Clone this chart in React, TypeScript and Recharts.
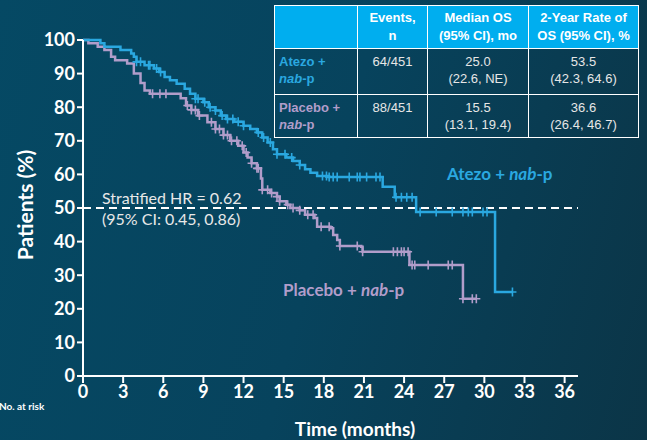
import React from 'react';
import { ComposedChart, Line, Scatter, XAxis, YAxis, ReferenceLine } from 'recharts';

// axis ticks
const monthTicks = [0, 3, 6, 9, 12, 15, 18, 21, 24, 27, 30, 33, 36];
const pctTicks = [0, 10, 20, 30, 40, 50, 60, 70, 80, 90, 100];

// Atezo + nab-p: KM step points (months, % alive)
const atezoT = [0, 1.3, 1.6, 2.8, 3.6, 3.8, 4.0, 4.6, 5.3, 5.7, 6.1, 6.5, 7.0, 7.6, 8.0, 8.4, 9.0, 9.4, 9.9, 10.3, 10.7, 11.3, 12.0, 12.5, 13.0, 13.4, 13.8, 14.2, 14.5, 15.2, 15.7, 16.2, 16.6, 17.0, 17.5, 18.3, 22.4, 23.3, 24.9, 30.8, 32.1];
const atezoS = [100, 99, 98, 97, 96, 95, 93.5, 92.5, 91.5, 90.5, 89, 88, 87, 85.5, 84, 82.5, 81.5, 80, 79, 77.5, 76.5, 75.7, 74.5, 73.5, 72.5, 71, 69.5, 67.5, 66, 65, 64, 62.8, 61.5, 60.5, 59.5, 59.2, 56.3, 53.2, 48.8, 25, 25];
const atezoCensor = [4.0, 4.3, 4.9, 5.0, 5.5, 5.8, 8.4, 8.6, 9.1, 9.5, 9.9, 10.4, 10.8, 11.2, 11.6, 12.0, 13.1, 13.5, 14.0, 14.5, 15.1, 15.6, 16.2, 17.9, 18.2, 18.4, 18.7, 19.0, 19.9, 20.5, 20.7, 21.2, 21.9, 22.2, 23.4, 23.8, 24.2, 24.6, 25.2, 26.4, 27.6, 28.4, 28.8, 29.1, 29.9, 30.2, 32.1];

// Placebo + nab-p
const placeboT = [0, 0.4, 1.1, 1.6, 2.1, 2.4, 3.3, 3.8, 4.3, 4.6, 5.0, 7.3, 7.7, 8.1, 8.6, 9.3, 9.9, 10.5, 11.0, 11.6, 12.0, 12.3, 12.6, 13.0, 13.3, 13.4, 14.0, 14.5, 14.7, 15.2, 15.5, 16.2, 16.6, 17.3, 17.5, 18.5, 18.7, 19.0, 19.2, 20.8, 20.9, 24.4, 28.4, 29.4];
const placeboS = [100, 99, 98, 97, 95, 94, 93, 90, 87.2, 85, 84, 82.7, 80.5, 79.2, 77.5, 75.5, 73.5, 71.7, 70, 68.5, 66.5, 65, 63.3, 61.8, 58.8, 55.4, 54.5, 53.4, 52, 51, 50, 49.3, 48, 47, 44.4, 44, 42, 40.5, 38.7, 38.5, 37, 33, 23, 23];
const placeboCensor = [5.2, 5.75, 6.2, 7.8, 8.1, 8.4, 8.7, 9.6, 9.9, 10.2, 10.5, 10.8, 11.1, 11.5, 11.9, 12.2, 12.6, 13.0, 13.1, 13.4, 13.8, 14.1, 14.5, 14.7, 15.3, 15.7, 16.2, 16.8, 17.2, 17.8, 18.4, 19.2, 20.5, 20.9, 23.2, 23.5, 23.8, 24.0, 24.3, 24.6, 24.8, 25.8, 27.3, 27.6, 28.4, 29.1, 29.4];

const ATEZO = '#2aa8e0';
const PLACEBO = '#b19dca';

const toRows = (ts: number[], ss: number[]) => ts.map((t, i) => ({ t, s: ss[i] }));
const survAt = (ts: number[], ss: number[], t: number) => {
  let v = ss[0];
  for (let i = 0; i < ts.length; i++) if (ts[i] <= t) v = ss[i];
  return v;
};
const censorRows = (cs: number[], ts: number[], ss: number[]) => cs.map((t) => ({ t, s: survAt(ts, ss, t) }));

const plus = (color: string) => (p: any) => (
  <path d={`M${p.cx - 4},${p.cy}H${p.cx + 4}M${p.cx},${p.cy - 4.5}V${p.cy + 4.5}`} stroke={color} strokeWidth={1.6} fill="none" />
);

const tickStyle = { fill: '#ffffff', fontSize: 18, fontWeight: 700, fontFamily: 'Lato, sans-serif' };

const cell: React.CSSProperties = { border: '1.5px solid #ffffff', padding: 0, textAlign: 'center' };
const head: React.CSSProperties = { ...cell, background: '#00aeef', color: '#fff', fontWeight: 700, verticalAlign: 'middle', lineHeight: '18px' };
const body: React.CSSProperties = { ...cell, color: '#e6e6e6', verticalAlign: 'top', paddingTop: 4, lineHeight: '17px' };
const armCell = (c: string): React.CSSProperties => ({ ...body, textAlign: 'left', paddingLeft: 4, color: c, fontWeight: 700 });

export default function App() {
  return (
    <div style={{ position: 'absolute', left: 0, top: 0, width: 647, height: 440, overflow: 'hidden', background: 'linear-gradient(105deg, #054964 0%, #07435d 50%, #0b3547 100%)' }}>
      <ComposedChart width={647} height={440} margin={{ top: 40, right: 69, bottom: 34, left: 40 }}>
        <XAxis type="number" dataKey="t" domain={[0, 37]} ticks={monthTicks} allowDuplicatedCategory={false}
          axisLine={{ stroke: '#fff', strokeWidth: 2 }} tickLine={{ stroke: '#fff', strokeWidth: 2 }} tickSize={7} tickMargin={2}
          tick={tickStyle} height={30} />
        <YAxis type="number" dataKey="s" domain={[0, 100]} ticks={pctTicks} width={43}
          axisLine={{ stroke: '#fff', strokeWidth: 2 }} tickLine={{ stroke: '#fff', strokeWidth: 2 }} tickSize={6} tickMargin={2}
          tick={tickStyle} />
        <ReferenceLine y={50} stroke="#fff" strokeWidth={2} strokeDasharray="8 5" />
        <Line data={toRows(placeboT, placeboS)} dataKey="s" type="stepAfter" stroke={PLACEBO} strokeWidth={2.5} dot={false} isAnimationActive={false} />
        <Line data={toRows(atezoT, atezoS)} dataKey="s" type="stepAfter" stroke={ATEZO} strokeWidth={2.5} dot={false} isAnimationActive={false} />
        <Scatter data={censorRows(placeboCensor, placeboT, placeboS)} dataKey="s" shape={plus(PLACEBO)} isAnimationActive={false} />
        <Scatter data={censorRows(atezoCensor, atezoT, atezoS)} dataKey="s" shape={plus(ATEZO)} isAnimationActive={false} />
      </ComposedChart>

      <div style={{ position: 'absolute', left: 24, top: 205, transform: 'translate(-50%, -50%) rotate(-90deg)', whiteSpace: 'nowrap', color: '#fff', fontFamily: 'Lato, sans-serif', fontWeight: 700, fontSize: 21 }}>
        Patients (%)
      </div>
      <div style={{ position: 'absolute', left: 355, top: 417, transform: 'translateX(-50%)', whiteSpace: 'nowrap', color: '#fff', fontFamily: 'Lato, sans-serif', fontWeight: 700, fontSize: 19 }}>
        Time (months)
      </div>
      <div style={{ position: 'absolute', left: -1, top: 400, color: '#fff', fontFamily: 'Lato, sans-serif', fontWeight: 700, fontSize: 10 }}>
        No. at risk
      </div>

      <div style={{ position: 'absolute', left: 102, top: 187, color: '#e8e8e8', fontFamily: 'Lato, sans-serif', fontSize: 16, lineHeight: '21px' }}>
        Stratified HR = 0.62<br />(95% CI: 0.45, 0.86)
      </div>
      <div style={{ position: 'absolute', left: 447, top: 163, color: ATEZO, fontFamily: 'Lato, sans-serif', fontWeight: 700, fontSize: 17 }}>
        Atezo + <i>nab</i>-p
      </div>
      <div style={{ position: 'absolute', left: 283, top: 279, color: PLACEBO, fontFamily: 'Lato, sans-serif', fontWeight: 700, fontSize: 17 }}>
        Placebo + <i>nab</i>-p
      </div>

      <table style={{ position: 'absolute', left: 274, top: 5, width: 364, borderCollapse: 'collapse', tableLayout: 'fixed', fontFamily: '"Liberation Sans", Arial, sans-serif', fontSize: 13 }}>
        <colgroup>
          <col style={{ width: 83 }} />
          <col style={{ width: 70 }} />
          <col style={{ width: 101 }} />
          <col style={{ width: 110 }} />
        </colgroup>
        <tbody>
          <tr style={{ height: 43 }}>
            <td style={head}></td>
            <td style={head}>Events,<br />n</td>
            <td style={head}>Median OS<br />(95% CI), mo</td>
            <td style={head}>2-Year Rate of<br />OS (95% CI), %</td>
          </tr>
          <tr style={{ height: 46 }}>
            <td style={armCell(ATEZO)}>Atezo +<br /><i>nab</i>-p</td>
            <td style={body}>64/451</td>
            <td style={body}>25.0<br />(22.6, NE)</td>
            <td style={body}>53.5<br />(42.3, 64.6)</td>
          </tr>
          <tr style={{ height: 43 }}>
            <td style={armCell(PLACEBO)}>Placebo +<br /><i>nab</i>-p</td>
            <td style={body}>88/451</td>
            <td style={body}>15.5<br />(13.1, 19.4)</td>
            <td style={body}>36.6<br />(26.4, 46.7)</td>
          </tr>
        </tbody>
      </table>
    </div>
  );
}
